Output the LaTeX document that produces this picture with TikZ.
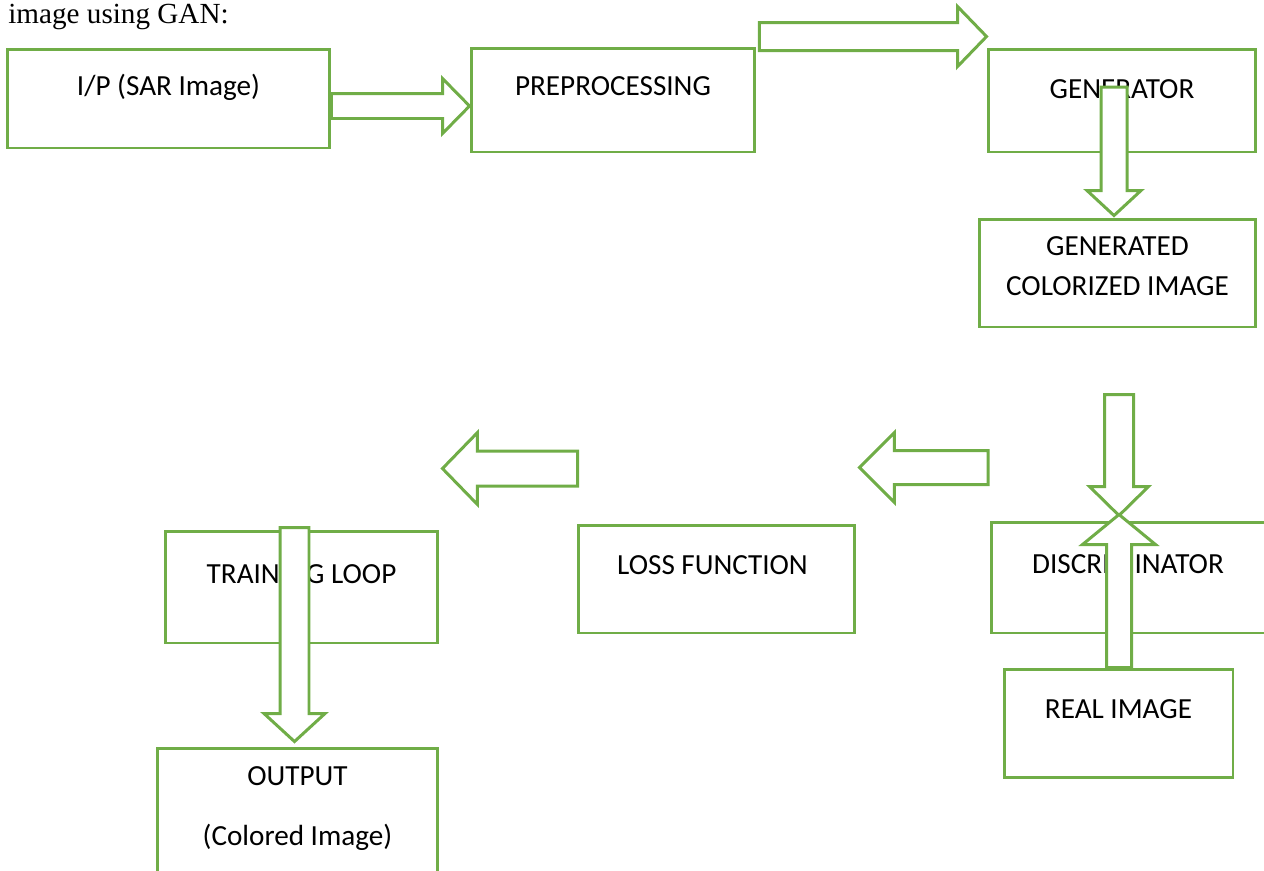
\documentclass[tikz,border=0pt]{standalone}
\usepackage{fontspec}
\setmainfont{Carlito}
\newfontfamily\titlefont{Liberation Serif}
\usetikzlibrary{calc}

\definecolor{boxgreen}{HTML}{70AD47}

% block arrow: tail, tip, shaft half width, head half width, head length
\newcommand{\blockarrow}[5]{%
	\coordinate (baHead) at ($(#2)!#5!(#1)$);
	\draw[BlockArrow] ($(#1)!#3!90:(#2)$) -- ($(baHead)!#3!90:(#2)$) -- ($(baHead)!#4!90:(#2)$) -- (#2)
		-- ($(baHead)!#4!-90:(#2)$) -- ($(baHead)!#3!-90:(#2)$) -- ($(#1)!#3!-90:(#2)$) -- cycle;}

\begin{document}
\begin{tikzpicture}[x=0.02cm, y=-0.02cm]
			\tikzstyle{Box} = [rectangle, draw=boxgreen, line width=1.7pt, fill=white, inner sep=0pt]
			\tikzstyle{BoxText} = [anchor=base, inner sep=0pt, align=center, font=\fontsize{16.6pt}{22.7pt}\selectfont]
			\tikzstyle{BlockArrow} = [draw=boxgreen, line width=1.7pt, fill=white]
			
			\useasboundingbox (0,0) rectangle (1264,870);
			
			\node (title) [anchor=base west, inner sep=0pt] at (8,23) {\titlefont\fontsize{16.6pt}{18pt}\selectfont image using GAN:};
			
			% first row
			\node (ip) [Box, minimum width=6.46cm, minimum height=1.98cm] at (168.5,98.5) {};
			\node (pre) [Box, minimum width=5.68cm, minimum height=2.08cm] at (613,100) {};
			\node (gen) [Box, minimum width=5.36cm, minimum height=2.06cm] at (1122,100.5) {};
			\node (gci) [Box, minimum width=5.54cm, minimum height=2.16cm] at (1117.5,273) {};
			\node (ipText) [BoxText] at ($(ip.north)+(0,48)$) {I/P (SAR Image)};
			\node (preText) [BoxText] at ($(pre.north)+(0,49)$) {PREPROCESSING};
			\node (genText) [BoxText] at ($(gen.north)+(0,51)$) {GENERATOR};
			\node (gciText) [BoxText] at ($(gci.north)+(0,78)$) {GENERATED\\COLORIZED IMAGE};
			
			% second row
			\node (disc) [Box, minimum width=5.5cm, minimum height=2.22cm] at (1129,577.5) {};
			\node (real) [Box, minimum width=4.58cm, minimum height=2.16cm] at (1118.5,723) {};
			\node (loss) [Box, minimum width=5.54cm, minimum height=2.16cm] at (716.5,579) {};
			\node (train) [Box, minimum width=5.46cm, minimum height=2.24cm] at (301.5,587) {};
			\node (out) [Box, minimum width=5.62cm, minimum height=2.7cm] at (297.5,815.5) {};
			\node (discText) [BoxText] at ($(disc.north)+(-1,53)$) {DISCRIMINATOR};
			\node (realText) [BoxText] at ($(real.north)+(0,51)$) {REAL IMAGE};
			\node (lossText) [BoxText] at ($(loss.north)+(-4,51)$) {LOSS FUNCTION};
			\node (trainText) [BoxText] at ($(train.north)+(0,54)$) {TRAINING LOOP};
			\node (outText) [BoxText] at ($(out.north)+(0,99)$) {OUTPUT\\[11.3pt](Colored Image)};
			
			% arrow ends
			\coordinate (ipOut) at ($(ip.east)+(0,7.5)$);
			\coordinate (preIn) at (pre.west |- ipOut);
			\coordinate (preOut) at ($(pre.north east)+(3,-10)$);
			\coordinate (genIn) at (gen.west |- preOut);
			\coordinate (genOut) at ($(gen.center)+(-8,-13.5)$);
			\coordinate (gciIn) at ($(genOut |- gci.north)+(0,-2)$);
			\coordinate (discTop) at ($(disc.north)+(-10,-126)$);
			\coordinate (discIn) at ($(discTop |- disc.north)+(0,-5)$);
			\coordinate (realOut) at (discTop |- real.north);
			\coordinate (realIn) at ($(discTop |- disc.north)+(0,-6)$);
			\coordinate (discOut) at ($(disc.north west)+(-2,-53)$);
			\coordinate (lossIn) at ($(loss.east |- discOut)+(3,0)$);
			\coordinate (lossOut) at ($(loss.north west)+(1,-55)$);
			\coordinate (trainIn) at ($(train.east |- lossOut)+(3,0)$);
			\coordinate (trainOut) at ($(train.north)+(-7,-2)$);
			\coordinate (outIn) at ($(trainOut |- out.north)+(0,-5)$);
			
			\blockarrow{ipOut}{preIn}{0.25cm}{0.55cm}{0.54cm}
			\blockarrow{preOut}{genIn}{0.28cm}{0.6cm}{0.58cm}
			\blockarrow{genOut}{gciIn}{0.26cm}{0.54cm}{0.5cm}
			\blockarrow{discTop}{discIn}{0.29cm}{0.59cm}{0.58cm}
			\blockarrow{realOut}{realIn}{0.25cm}{0.73cm}{0.6cm}
			\blockarrow{discOut}{lossIn}{0.34cm}{0.7cm}{0.7cm}
			\blockarrow{lossOut}{trainIn}{0.35cm}{0.72cm}{0.7cm}
			\blockarrow{trainOut}{outIn}{0.29cm}{0.61cm}{0.56cm}
		\end{tikzpicture}
\end{document}
